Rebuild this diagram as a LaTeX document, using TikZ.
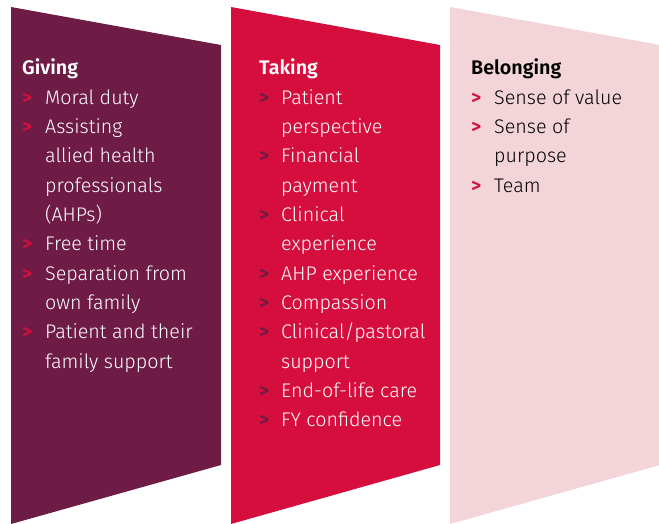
\documentclass[tikz,border=0pt]{standalone}
\usepackage{fontspec}
\setmainfont{Fira Sans Light}[BoldFont={Fira Sans SemiBold}]
\definecolor{plum}{HTML}{6E1C45}
\definecolor{crimson}{HTML}{D60E3E}
\definecolor{blush}{HTML}{F3D5D9}
\tikzset{
  txt/.style={anchor=base west, inner sep=0pt, font=\fontsize{19.7}{23}\selectfont},
  head/.style={anchor=base west, inner sep=0pt, font=\fontsize{19.7}{23}\selectfont\bfseries},
  bul/.style={anchor=base west, inner sep=0pt, font=\fontsize{19.7}{23}\selectfont\bfseries}
}
\begin{document}
\begin{tikzpicture}[x=1pt,y=-1pt]
\useasboundingbox (0,0) rectangle (659,524);
\fill[plum] (11,7) -- (221,45) -- (221,465) -- (11,524) -- cycle;
\fill[crimson] (231,7) -- (440,45) -- (440,465) -- (231,524) -- cycle;
\fill[blush] (450,7) -- (660,45) -- (660,465) -- (450,524) -- cycle;
% Giving
\node[head, text=white] (gh) at (22,75) {Giving};
\foreach \b/\t [count=\i] in {1/Moral duty, 1/Assisting, 0/allied health, 0/professionals, 0/(AHPs), 1/Free time, 1/Separation from, 0/own family, 1/Patient and their, 0/family support}{
  \node[txt, text=white] (g\i) at (45,75+29.3*\i) {\t};
  \ifnum\b=1 \node[bul, text=crimson] (gb\i) at (22,75+29.3*\i) {>}; \fi
}
% Taking
\node[head, text=white] (th) at (259,75) {Taking};
\foreach \b/\t [count=\i] in {1/Patient, 0/perspective, 1/Financial, 0/payment, 1/Clinical, 0/experience, 1/AHP experience, 1/Compassion, 1/{Clinical/pastoral}, 0/support, 1/End-of-life care, 1/FY confidence}{
  \node[txt, text=white] (t\i) at (281,75+29.3*\i) {\t};
  \ifnum\b=1 \node[bul, text=plum] (tb\i) at (259,75+29.3*\i) {>}; \fi
}
% Belonging
\node[head, text=black] (bh) at (471,75) {Belonging};
\foreach \b/\t [count=\i] in {1/Sense of value, 1/Sense of, 0/purpose, 1/Team}{
  \node[txt, text=black] (b\i) at (494,75+29.3*\i) {\t};
  \ifnum\b=1 \node[bul, text=crimson] (bb\i) at (471,75+29.3*\i) {>}; \fi
}
\end{tikzpicture}
\end{document}
